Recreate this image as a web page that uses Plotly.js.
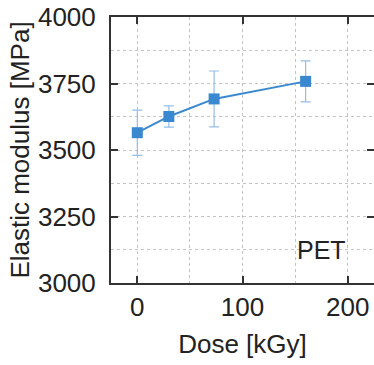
<!DOCTYPE html>
<html>
<head>
<meta charset="utf-8">
<script src="https://cdn.plot.ly/plotly-3.0.1.min.js"></script>
<style>html,body{margin:0;padding:0;background:#fff;}#chart{width:374px;height:365px;}</style>
</head>
<body>
<div id="chart"></div>
<script>
const dose = [0, 30, 73, 160];
const modulus = [3565, 3626, 3692, 3758];
const modulusErr = [85, 40, 105, 77];
const sampleLabel = "PET";
const xTitle = "Dose [kGy]";
const yTitle = "Elastic modulus [MPa]";

const blue = "#3a88d0";
const font = {family: "Liberation Sans, Arial, sans-serif", size: 26, color: "#222"};

const trace = {
  x: dose, y: modulus, type: "scatter", mode: "lines+markers",
  line: {color: blue, width: 2},
  marker: {symbol: "square", size: 11, color: blue},
  error_y: {type: "data", array: modulusErr, visible: true, color: "#94bde6", thickness: 1.2, width: 5},
  showlegend: false
};

const axisCommon = {
  showline: true, linecolor: "#333", linewidth: 2, mirror: "ticks",
  ticks: "inside", ticklen: 7, tickwidth: 2, tickcolor: "#333",
  showgrid: true, gridcolor: "#c4c4c4", gridwidth: 1, griddash: "dot",
  zeroline: false, tickfont: font
};

const layout = {
  width: 374, height: 365,
  margin: {l: 111, r: 0, t: 17, b: 82},
  paper_bgcolor: "#fff", plot_bgcolor: "#fff",
  font: font,
  xaxis: Object.assign({}, axisCommon, {
    range: [-25, 225], tickmode: "linear", tick0: 0, dtick: 100,
    minor: {dtick: 50, showgrid: true, gridcolor: "#c4c4c4", gridwidth: 1, griddash: "dot", ticks: ""},
    ticklabelstandoff: 0,
    title: {text: xTitle, font: font, standoff: 14}
  }),
  yaxis: Object.assign({}, axisCommon, {
    range: [3000, 4000], tickmode: "linear", tick0: 3000, dtick: 250,
    minor: {dtick: 125, showgrid: true, gridcolor: "#c4c4c4", gridwidth: 1, griddash: "dot", ticks: ""},
    ticklabelstandoff: 8,
    title: {text: yTitle, font: font, standoff: 1}
  }),
  annotations: [{
    x: 200, y: 3125, xref: "x", yref: "y", text: sampleLabel, showarrow: false,
    xanchor: "right", yanchor: "middle", font: {family: font.family, size: 25, color: "#222"}
  }]
};

Plotly.newPlot("chart", [trace], layout, {displayModeBar: false, staticPlot: true});
</script>
</body>
</html>
